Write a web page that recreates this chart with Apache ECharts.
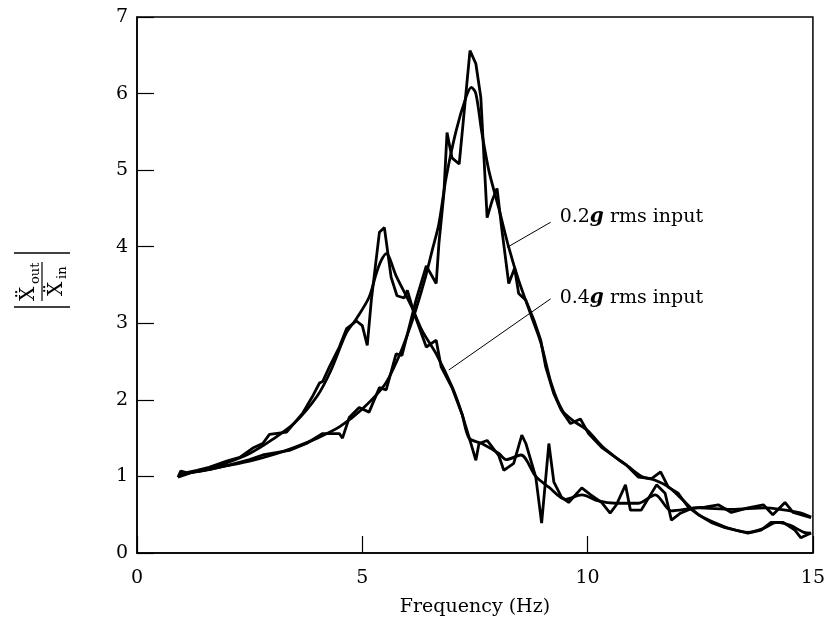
<!DOCTYPE html>
<html>
<head>
<meta charset="utf-8">
<script src="https://cdn.jsdelivr.net/npm/echarts@6/dist/echarts.min.js"></script>
<style>
  html, body { margin: 0; padding: 0; background: #fff; }
  #chart { width: 828px; height: 622px; }
</style>
</head>
<body>
<div id="chart"></div>
<script>
// --- datos: [frecuencia Hz, |Xout/Xin|] ---

// 0.4g rms, medida (con ruido)
const medida04 = [
  [0.91, 0.99], [0.97, 1.07], [1.1, 1.05], [1.33, 1.08], [1.6, 1.12], [1.99, 1.2], [2.28, 1.25],
  [2.57, 1.37], [2.79, 1.43], [2.94, 1.55], [3.32, 1.58], [3.67, 1.82], [3.89, 2.04], [4.05, 2.22],
  [4.12, 2.24], [4.27, 2.43], [4.49, 2.69], [4.65, 2.93], [4.87, 3.03], [5.0, 2.97], [5.11, 2.71],
  [5.2, 3.3], [5.38, 4.19], [5.49, 4.25], [5.64, 3.6], [5.77, 3.36], [5.93, 3.33], [6.0, 3.43],
  [6.15, 3.13], [6.42, 2.69], [6.64, 2.78], [6.75, 2.43], [6.99, 2.16], [7.21, 1.82], [7.4, 1.45],
  [7.52, 1.21], [7.59, 1.43], [7.77, 1.47], [8.03, 1.27], [8.14, 1.08], [8.36, 1.17], [8.54, 1.54],
  [8.63, 1.43], [8.85, 0.99], [8.98, 0.39], [9.14, 1.43], [9.25, 0.93], [9.42, 0.73], [9.58, 0.66],
  [9.87, 0.85], [10.07, 0.76], [10.31, 0.66], [10.5, 0.52], [10.64, 0.63], [10.84, 0.89], [10.95, 0.56],
  [11.19, 0.56], [11.53, 0.89], [11.72, 0.78], [11.86, 0.43], [12.06, 0.52], [12.35, 0.59], [12.6, 0.6],
  [12.9, 0.63], [13.19, 0.53], [13.56, 0.59], [13.9, 0.63], [14.11, 0.5], [14.38, 0.66], [14.56, 0.53],
  [14.96, 0.46]
];

// 0.4g rms, curva suavizada
const suave04 = [
  [0.95, 1.03], [1.5, 1.09], [2.0, 1.18], [2.5, 1.3], [3.0, 1.48], [3.5, 1.7], [4.0, 2.05], [4.3, 2.38],
  [4.65, 2.88], [4.87, 3.06], [5.15, 3.34], [5.31, 3.65], [5.42, 3.82], [5.53, 3.91], [5.75, 3.62],
  [6.1, 3.21], [6.33, 2.9], [6.64, 2.6], [7.0, 2.16], [7.21, 1.82], [7.37, 1.5], [7.65, 1.43],
  [8.03, 1.3], [8.19, 1.22], [8.52, 1.28], [8.85, 1.0], [9.14, 0.86], [9.51, 0.7], [9.87, 0.76],
  [10.24, 0.68], [10.62, 0.65], [11.13, 0.65], [11.5, 0.76], [11.86, 0.55], [12.46, 0.59],
  [13.19, 0.57], [13.94, 0.59], [14.67, 0.53], [14.96, 0.47]
];

// 0.2g rms, medida (con ruido)
const medida02 = [
  [0.91, 0.99], [1.2, 1.05], [1.6, 1.09], [2.06, 1.15], [2.5, 1.22], [2.79, 1.28], [3.38, 1.34],
  [3.76, 1.43], [4.12, 1.56], [4.49, 1.56], [4.56, 1.5], [4.71, 1.77], [4.93, 1.9], [5.15, 1.84],
  [5.38, 2.16], [5.53, 2.13], [5.75, 2.6], [5.88, 2.58], [6.04, 2.95], [6.19, 3.3], [6.42, 3.75],
  [6.64, 3.52], [6.7, 4.04], [6.81, 4.69], [6.88, 5.49], [6.99, 5.16], [7.15, 5.08], [7.39, 6.56],
  [7.52, 6.39], [7.63, 5.95], [7.77, 4.38], [7.88, 4.6], [7.99, 4.76], [8.1, 4.21], [8.25, 3.52],
  [8.38, 3.72], [8.47, 3.39], [8.63, 3.3], [8.81, 3.04], [8.96, 2.78], [9.07, 2.43], [9.25, 2.08],
  [9.42, 1.86], [9.62, 1.69], [9.84, 1.75], [10.02, 1.56], [10.31, 1.38], [10.62, 1.25], [10.86, 1.15],
  [11.13, 0.99], [11.42, 0.97], [11.62, 1.06], [11.79, 0.86], [12.01, 0.78], [12.23, 0.6], [12.46, 0.5],
  [12.74, 0.4], [13.05, 0.33], [13.56, 0.26], [13.85, 0.3], [14.07, 0.4], [14.34, 0.4], [14.6, 0.3],
  [14.73, 0.2], [14.96, 0.26]
];

// 0.2g rms, curva suavizada
const suave02 = [
  [0.95, 1.03], [1.5, 1.08], [2.0, 1.14], [2.5, 1.2], [3.0, 1.28], [3.5, 1.38], [4.0, 1.5], [4.5, 1.65],
  [5.0, 1.88], [5.5, 2.2], [5.8, 2.55], [6.0, 2.85], [6.2, 3.2], [6.4, 3.6], [6.55, 3.95], [6.7, 4.3],
  [6.86, 4.9], [7.08, 5.51], [7.3, 5.95], [7.42, 6.08], [7.52, 6.0], [7.65, 5.5], [7.81, 4.99],
  [8.03, 4.5], [8.25, 3.99], [8.47, 3.56], [8.76, 3.08], [8.96, 2.75], [9.2, 2.2], [9.45, 1.85],
  [9.7, 1.72], [10.0, 1.6], [10.31, 1.4], [10.62, 1.25], [10.9, 1.13], [11.2, 1.0], [11.5, 0.95],
  [11.8, 0.86], [12.1, 0.7], [12.46, 0.5], [12.8, 0.4], [13.1, 0.33], [13.56, 0.27], [13.9, 0.32],
  [14.2, 0.4], [14.5, 0.36], [14.8, 0.27], [14.96, 0.26]
];

// lineas guia de las etiquetas (en coordenadas de datos)
const guia02 = [[8.21, 3.99], [9.18, 4.32]];
const guia04 = [[6.92, 2.39], [9.18, 3.32]];

const ticksX = { min: 0, max: 15, interval: 5 };
const ticksY = { min: 0, max: 7, interval: 1 };

const serif = 'DejaVu Serif';

const chart = echarts.init(document.getElementById('chart'));

function ejeBase(t) {
  return {
    type: 'value',
    min: t.min, max: t.max, interval: t.interval,
    axisLine: { show: true, lineStyle: { color: '#000', width: 1.5 } },
    axisTick: { show: true, inside: true, length: 17, lineStyle: { color: '#000', width: 1.2 } },
    axisLabel: { color: '#000', fontFamily: serif, fontSize: 19 },
    splitLine: { show: false }
  };
}

function curva(data, suave) {
  return {
    type: 'line', data: data, showSymbol: false, smooth: suave ? 0.3 : false,
    lineStyle: { color: '#000', width: 2.8 }, z: 3
  };
}

function guia(data, texto, dy) {
  return {
    type: 'line', data: data, showSymbol: false,
    lineStyle: { color: '#000', width: 1 }, z: 2,
    endLabel: {
      show: true, distance: 9, offset: [0, dy],
      formatter: '{n|' + texto + '}{g|g}{n| rms input}',
      rich: {
        n: { fontFamily: serif, fontSize: 19, color: '#000' },
        g: { fontFamily: serif, fontSize: 20, fontWeight: 'bold', fontStyle: 'italic', color: '#000' }
      }
    }
  };
}

const xEje = ejeBase(ticksX);
xEje.axisLabel.margin = 16;
xEje.name = 'Frequency (Hz)';
xEje.nameLocation = 'middle';
xEje.nameGap = 45;
xEje.nameTextStyle = { color: '#000', fontFamily: serif, fontSize: 19 };

const yEje = ejeBase(ticksY);
yEje.axisLabel.margin = 9;

// nombre del eje Y: |Xout / Xin| girado
const fs = { fontFamily: serif, fill: '#000' };
const nombreY = {
  type: 'group', x: 42, y: 280, rotation: Math.PI / 2,
  children: [
    { type: 'line', shape: { x1: -27, y1: -28, x2: -27, y2: 28 }, style: { stroke: '#000', lineWidth: 1.3 } },
    { type: 'line', shape: { x1: 27, y1: -28, x2: 27, y2: 28 }, style: { stroke: '#000', lineWidth: 1.3 } },
    { type: 'line', shape: { x1: -21, y1: 0, x2: 18, y2: 0 }, style: { stroke: '#000', lineWidth: 1.2 } },
    { type: 'text', x: -14, y: -13, style: Object.assign({ text: 'Ẍ', fontSize: 20, align: 'center', verticalAlign: 'middle' }, fs) },
    { type: 'text', x: -4, y: -6, style: Object.assign({ text: 'out', fontSize: 13, align: 'left', verticalAlign: 'middle' }, fs) },
    { type: 'text', x: -9, y: 15, style: Object.assign({ text: 'Ẍ', fontSize: 20, align: 'center', verticalAlign: 'middle' }, fs) },
    { type: 'text', x: 1, y: 21, style: Object.assign({ text: 'in', fontSize: 13, align: 'left', verticalAlign: 'middle' }, fs) }
  ]
};

chart.setOption({
  animation: false,
  backgroundColor: '#fff',
  grid: { left: 137, right: 13, top: 17, bottom: 69, show: true, borderColor: '#000', borderWidth: 1.5 },
  xAxis: xEje,
  yAxis: yEje,
  graphic: [nombreY],
  series: [
    curva(medida02, false),
    curva(suave02, true),
    curva(medida04, false),
    curva(suave04, true),
    guia(guia02, '0.2', -5),
    guia(guia04, '0.4', -1)
  ]
});
</script>
</body>
</html>
